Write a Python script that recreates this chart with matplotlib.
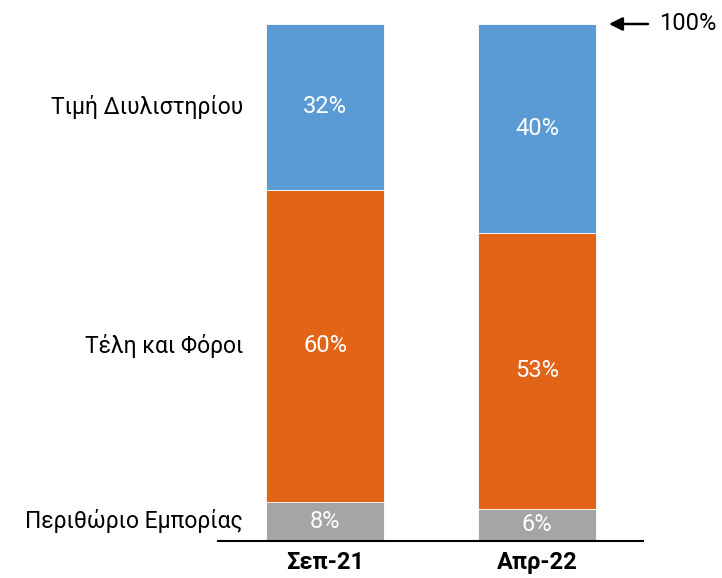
import numpy as np
import matplotlib.pyplot as plt

# --- Δεδομένα ---
months = ["Σεπ-21", "Απρ-22"]
series = ["Περιθώριο Εμπορίας", "Τέλη και Φόροι", "Τιμή Διυλιστηρίου"]
margin = [7.6, 6.2]
taxes = [60.3, 53.4]
refinery = [32.1, 40.4]
colors = ["#A5A5A5", "#E26416", "#5B9BD5"]

plt.rcParams["font.family"] = ["Roboto", "DejaVu Sans"]

fig = plt.figure(figsize=(7.22, 5.78), dpi=100)
ax = fig.add_axes([0.302, 0.064, 0.589, 0.8945])

x = np.arange(len(months))
bottom = np.zeros(len(months))
for name, vals, col in zip(series, [margin, taxes, refinery], colors):
    vals = np.array(vals)
    ax.bar(x, vals, bottom=bottom, width=0.557, color=col,
           edgecolor="white", linewidth=0.6)
    for xi, b, v in zip(x, bottom, vals):
        ax.text(xi, b + v / 2, f"{v:.0f}%", ha="center", va="center",
                color="white", fontsize=17)
    # ετικέτα σειράς αριστερά, στο ύψος της πρώτης στήλης
    ax.text(-0.387, bottom[0] + vals[0] / 2, name, ha="right", va="center",
            fontsize=16.5, clip_on=False)
    bottom += vals

ax.set_xlim(-0.505, 1.5)
ax.set_ylim(0, 100)
ax.set_xticks(x)
ax.set_xticklabels(months, fontsize=17, fontweight="bold")
ax.tick_params(axis="x", length=0, pad=7)
ax.set_yticks([])
for s in ["top", "right", "left"]:
    ax.spines[s].set_visible(False)
ax.spines["bottom"].set_linewidth(1.5)

# βέλος 100%
ax.annotate("", xy=(1.325, 100), xytext=(1.535, 100),
            arrowprops=dict(arrowstyle="-|>", color="black", lw=1.8,
                            mutation_scale=20),
            annotation_clip=False)
ax.text(1.575, 100, "100%", ha="left", va="center", fontsize=17, clip_on=False)

fig.savefig("out.png", dpi=100)
